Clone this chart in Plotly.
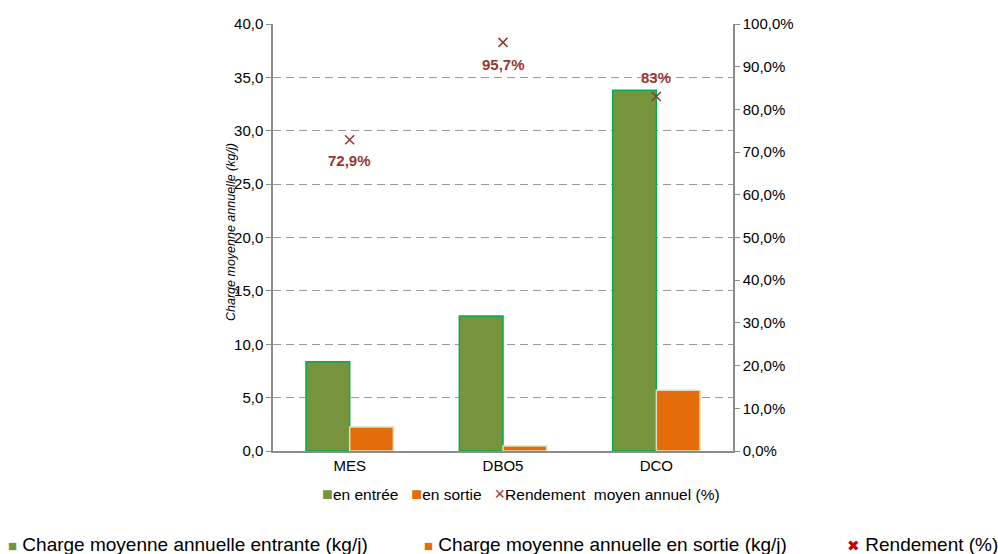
import plotly.graph_objects as go

#------------------------------------------------------------------------------#
#     data                                                  #
#------------------------------------------------------------------------------#
parametres = ['MES', 'DBO5', 'DCO']
charge_entree = [8.35, 12.65, 33.8]      # kg/j
charge_sortie = [2.25, 0.47, 5.7]        # kg/j
rendement = [0.729, 0.957, 0.83]         # fraction
rendement_labels = ['72,9%', '95,7%', '83%']
left_ticks = [0, 5, 10, 15, 20, 25, 30, 35, 40]
right_ticks = [0, 0.1, 0.2, 0.3, 0.4, 0.5, 0.6, 0.7, 0.8, 0.9, 1.0]

VERT = '#77933C'
VERT_BORD = '#00B050'
ORANGE = '#E46C0A'
ORANGE_BORD = '#D7E4BD'
ROUGE = '#953735'
GRIS = '#8C8C8C'
FONT = 'Liberation Sans, Arial, sans-serif'

#------------------------------------------------------------------------------#
#     traces                                                                   #
#------------------------------------------------------------------------------#
fig = go.Figure()
fig.add_trace(go.Bar(
    x=parametres, y=charge_entree, name='en entrée',
    marker=dict(color=VERT, line=dict(color=VERT_BORD, width=1.5)),
))
fig.add_trace(go.Bar(
    x=parametres, y=charge_sortie, name='en sortie',
    marker=dict(color=ORANGE, line=dict(color=ORANGE_BORD, width=1.5)),
))
fig.add_trace(go.Scatter(
    x=parametres, y=rendement, name='Rendement  moyen annuel (%)',
    yaxis='y2', mode='markers',
    marker=dict(symbol='x-thin', size=9, line=dict(color=ROUGE, width=1.5)),
))

# data labels of the rendement points (below, below, above)
decalage = [-21, -22, 19]
for cat, val, lab, dy in zip(parametres, rendement, rendement_labels, decalage):
    fig.add_annotation(
        x=cat, y=val, xref='x', yref='y2', yshift=dy,
        text=lab, showarrow=False,
        font=dict(color=ROUGE, size=15, family=FONT, weight='bold'),
    )

#------------------------------------------------------------------------------#
#     layout                                                                   #
#------------------------------------------------------------------------------#
fig.update_layout(
    width=998, height=554,
    margin=dict(l=273, r=265, t=24, b=103),
    paper_bgcolor='white', plot_bgcolor='white',
    separators=', ',
    font=dict(family=FONT, size=13, color='#000000'),
    barmode='group', bargap=0.43, bargroupgap=0,
    showlegend=False,
    xaxis=dict(
        showline=True, linecolor=GRIS, linewidth=1.5, ticks='',
        tickfont=dict(size=15),
    ),
    yaxis=dict(
        range=[0, 40], tickvals=left_ticks, tickformat='.1f',
        showline=True, linecolor=GRIS, linewidth=1.5,
        ticks='outside', ticklen=5, tickcolor=GRIS,
        showgrid=True, gridcolor='#9A9A9A', griddash='8px,5px', gridwidth=1.2,
        zeroline=False, tickfont=dict(size=15),
    ),
    yaxis2=dict(
        range=[0, 1], tickvals=right_ticks, tickformat='.1%',
        overlaying='y', side='right',
        showline=True, linecolor=GRIS, linewidth=1.5,
        ticks='outside', ticklen=5, tickcolor=GRIS,
        showgrid=False, zeroline=False, tickfont=dict(size=15),
    ),
)

def px_x(px):
    return (px - 273) / 460

def px_y(py):
    return (451 - py) / 427

# y axis title (overlaps the tick labels like in the original)
fig.add_annotation(
    text='Charge moyenne annuelle (kg/j)', textangle=-90,
    xref='paper', yref='paper', x=px_x(231), y=px_y(232),
    xanchor='center', yanchor='middle', showarrow=False,
    font=dict(size=12.5, style='italic', color='#000000'),
)

#------------------------------------------------------------------------------#
#     legend under the axis                                                    #
#------------------------------------------------------------------------------#
leg = (
    f"<span style='color:{VERT};font-size:18px'>■</span>en entrée&nbsp;&nbsp;&nbsp;"
    f"<span style='color:{ORANGE};font-size:18px'>■</span>en sortie&nbsp;&nbsp;&nbsp;"
    f"<span style='color:{ROUGE};font-size:18px'>×</span>Rendement&nbsp;&nbsp;moyen annuel (%)"
)
fig.add_annotation(
    text=leg, xref='paper', yref='paper', x=px_x(521), y=px_y(494),
    xanchor='center', yanchor='middle', showarrow=False,
    font=dict(size=15.5, color='#000000'),
)

#------------------------------------------------------------------------------#
#     second legend strip at the bottom                                        #
#------------------------------------------------------------------------------#
bas = [
    (6, '■', VERT, 'Charge moyenne annuelle entrante (kg/j)'),
    (422, '■', ORANGE, 'Charge moyenne annuelle en sortie (kg/j)'),
    (845, '✖', '#C00000', 'Rendement (%)'),
]
for xpx, sym, col, txt in bas:
    fig.add_annotation(
        text=f"<span style='color:{col};font-size:15px'>{sym}</span> {txt}",
        xref='paper', yref='paper', x=px_x(xpx), y=px_y(544),
        xanchor='left', yanchor='middle', showarrow=False,
        font=dict(size=19, color='#000000'),
    )

fig.write_html('out.html', config={'displayModeBar': False},
               post_script="document.body.style.margin='0';")
